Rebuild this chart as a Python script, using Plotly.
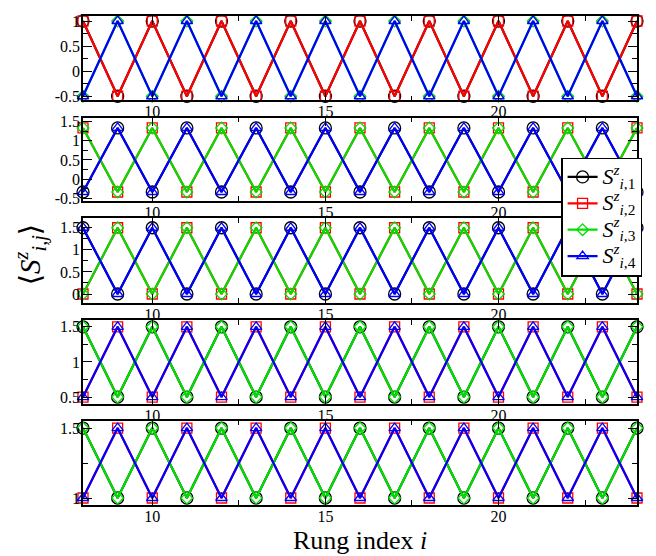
import plotly.graph_objects as go

# Rung positions along the ladder
rung = [8, 9, 10, 11, 12, 13, 14, 15, 16, 17, 18, 19, 20, 21, 22, 23, 24]

# Panel 1: legs 1,2 in phase, legs 3,4 in antiphase
p1_s1 = [1, -0.5, 1, -0.5, 1, -0.5, 1, -0.5, 1, -0.5, 1, -0.5, 1, -0.5, 1, -0.5, 1]
p1_s2 = [1, -0.5, 1, -0.5, 1, -0.5, 1, -0.5, 1, -0.5, 1, -0.5, 1, -0.5, 1, -0.5, 1]
p1_s3 = [-0.5, 1, -0.5, 1, -0.5, 1, -0.5, 1, -0.5, 1, -0.5, 1, -0.5, 1, -0.5, 1, -0.5]
p1_s4 = [-0.5, 1, -0.5, 1, -0.5, 1, -0.5, 1, -0.5, 1, -0.5, 1, -0.5, 1, -0.5, 1, -0.5]

# Panel 2
p2_s1 = [-0.33, 1.33, -0.33, 1.33, -0.33, 1.33, -0.33, 1.33, -0.33, 1.33, -0.33, 1.33, -0.33, 1.33, -0.33, 1.33, -0.33]
p2_s2 = [1.33, -0.33, 1.33, -0.33, 1.33, -0.33, 1.33, -0.33, 1.33, -0.33, 1.33, -0.33, 1.33, -0.33, 1.33, -0.33, 1.33]
p2_s3 = [1.33, -0.33, 1.33, -0.33, 1.33, -0.33, 1.33, -0.33, 1.33, -0.33, 1.33, -0.33, 1.33, -0.33, 1.33, -0.33, 1.33]
p2_s4 = [-0.33, 1.33, -0.33, 1.33, -0.33, 1.33, -0.33, 1.33, -0.33, 1.33, -0.33, 1.33, -0.33, 1.33, -0.33, 1.33, -0.33]

# Panel 3
p3_s1 = [1.5, 0, 1.5, 0, 1.5, 0, 1.5, 0, 1.5, 0, 1.5, 0, 1.5, 0, 1.5, 0, 1.5]
p3_s2 = [0, 1.5, 0, 1.5, 0, 1.5, 0, 1.5, 0, 1.5, 0, 1.5, 0, 1.5, 0, 1.5, 0]
p3_s3 = [0, 1.5, 0, 1.5, 0, 1.5, 0, 1.5, 0, 1.5, 0, 1.5, 0, 1.5, 0, 1.5, 0]
p3_s4 = [1.5, 0, 1.5, 0, 1.5, 0, 1.5, 0, 1.5, 0, 1.5, 0, 1.5, 0, 1.5, 0, 1.5]

# Panel 4
p4_s1 = [1.5, 0.5, 1.5, 0.5, 1.5, 0.5, 1.5, 0.5, 1.5, 0.5, 1.5, 0.5, 1.5, 0.5, 1.5, 0.5, 1.5]
p4_s2 = [0.5, 1.5, 0.5, 1.5, 0.5, 1.5, 0.5, 1.5, 0.5, 1.5, 0.5, 1.5, 0.5, 1.5, 0.5, 1.5, 0.5]
p4_s3 = [1.5, 0.5, 1.5, 0.5, 1.5, 0.5, 1.5, 0.5, 1.5, 0.5, 1.5, 0.5, 1.5, 0.5, 1.5, 0.5, 1.5]
p4_s4 = [0.5, 1.5, 0.5, 1.5, 0.5, 1.5, 0.5, 1.5, 0.5, 1.5, 0.5, 1.5, 0.5, 1.5, 0.5, 1.5, 0.5]

# Panel 5
p5_s1 = [1.5, 1, 1.5, 1, 1.5, 1, 1.5, 1, 1.5, 1, 1.5, 1, 1.5, 1, 1.5, 1, 1.5]
p5_s2 = [1, 1.5, 1, 1.5, 1, 1.5, 1, 1.5, 1, 1.5, 1, 1.5, 1, 1.5, 1, 1.5, 1]
p5_s3 = [1.5, 1, 1.5, 1, 1.5, 1, 1.5, 1, 1.5, 1, 1.5, 1, 1.5, 1, 1.5, 1, 1.5]
p5_s4 = [1, 1.5, 1, 1.5, 1, 1.5, 1, 1.5, 1, 1.5, 1, 1.5, 1, 1.5, 1, 1.5, 1]

panels = [
    [p1_s1, p1_s2, p1_s3, p1_s4],
    [p2_s1, p2_s2, p2_s3, p2_s4],
    [p3_s1, p3_s2, p3_s3, p3_s4],
    [p4_s1, p4_s2, p4_s3, p4_s4],
    [p5_s1, p5_s2, p5_s3, p5_s4],
]

# Y-axis ticks per panel
y_ticks = [
    [-0.5, 0, 0.5, 1],
    [-0.5, 0, 0.5, 1, 1.5],
    [0, 0.5, 1, 1.5],
    [0.5, 1, 1.5],
    [1, 1.5],
]
y_ticktext = [
    ["-0.5", "0", "0.5", "1"],
    ["-0.5", "0", "0.5", "1", "1.5"],
    ["0", "0.5", "1", "1.5"],
    ["0.5", "1", "1.5"],
    ["1", "1.5"],
]
y_ranges = [[-0.58, 1.1], [-0.56, 1.6], [-0.2, 1.71], [0.4, 1.595], [0.95, 1.552]]
y_domains = [[0.8277, 1.0], [0.6219, 0.7924], [0.4134, 0.5859], [0.2064, 0.3781], [0.0, 0.1723]]

leg_names = [
    '<span style="font-size:22px"><i>S</i><sup><i>z</i></sup><sub><i>i</i>,1</sub></span>',
    '<span style="font-size:22px"><i>S</i><sup><i>z</i></sup><sub><i>i</i>,2</sub></span>',
    '<span style="font-size:22px"><i>S</i><sup><i>z</i></sup><sub><i>i</i>,3</sub></span>',
    '<span style="font-size:22px"><i>S</i><sup><i>z</i></sup><sub><i>i</i>,4</sub></span>',
]
colors = ["#000000", "#ff0000", "#00e000", "#0000ff"]
symbols = ["circle-open", "square-open", "diamond-open", "triangle-up-open"]
sizes = [12, 10, 9, 10]

FONT = "'Liberation Serif', 'Times New Roman', 'DejaVu Serif', serif"

fig = go.Figure()

for p, series in enumerate(panels):
    xa = "x" if p == 0 else f"x{p + 1}"
    ya = "y" if p == 0 else f"y{p + 1}"
    for k, vals in enumerate(series):
        fig.add_trace(go.Scatter(
            x=rung, y=vals, xaxis=xa, yaxis=ya,
            mode="lines+markers",
            name=leg_names[k],
            showlegend=(p == 0),
            line=dict(color=colors[k], width=2.2),
            marker=dict(symbol=symbols[k], size=sizes[k], color=colors[k],
                        line=dict(width=1.3, color=colors[k])),
            cliponaxis=False,
        ))

axis_common = dict(
    showline=True, linecolor="black", linewidth=1.5, mirror="ticks",
    ticks="inside", ticklen=9, tickwidth=1.2, tickcolor="black",
    showgrid=False, zeroline=False,
    tickfont=dict(family=FONT, size=16, color="black"),
)

layout = dict(
    width=656, height=556,
    margin=dict(l=83, r=19, t=16, b=51),
    paper_bgcolor="white", plot_bgcolor="white",
    font=dict(family=FONT, color="black"),
    legend=dict(
        x=0.8635, y=0.7106, xanchor="left", yanchor="top",
        bgcolor="white", bordercolor="black", borderwidth=1.2,
        font=dict(family=FONT, size=18, color="black"),
        tracegroupgap=0,
    ),
)

for p in range(5):
    xk = "xaxis" if p == 0 else f"xaxis{p + 1}"
    yk = "yaxis" if p == 0 else f"yaxis{p + 1}"
    anchor_y = "y" if p == 0 else f"y{p + 1}"
    anchor_x = "x" if p == 0 else f"x{p + 1}"
    layout[xk] = dict(
        axis_common, domain=[0, 1], anchor=anchor_y, range=[8, 24],
        tickmode="linear", tick0=0, dtick=5, ticklabelstandoff=-4,
        minor=dict(ticks="inside", ticklen=5, tickwidth=1.2, tickcolor="black",
                   tick0=0, dtick=2.5, showgrid=False),
    )
    layout[yk] = dict(
        axis_common, domain=y_domains[p], anchor=anchor_x, range=y_ranges[p],
        tickmode="array", tickvals=y_ticks[p], ticktext=y_ticktext[p],
        ticklabelstandoff=-2,
        minor=dict(ticks="inside", ticklen=5, tickwidth=1.2, tickcolor="black",
                   tick0=0, dtick=0.25, showgrid=False),
    )

fig.update_layout(**layout)

fig.add_annotation(
    text="Rung index <i>i</i>", xref="paper", yref="paper",
    x=0.5, y=-0.073, xanchor="center", yanchor="middle", showarrow=False,
    font=dict(family=FONT, size=26, color="black"),
)
fig.add_annotation(
    text="⟨<i>S</i><sup><i>z</i></sup><sub><i>i,j</i></sub>⟩", xref="paper", yref="paper",
    x=-0.0955, y=0.511, xanchor="center", yanchor="middle", showarrow=False,
    textangle=-90,
    font=dict(family=FONT, size=29, color="black"),
)

fig.write_html("out.html")
